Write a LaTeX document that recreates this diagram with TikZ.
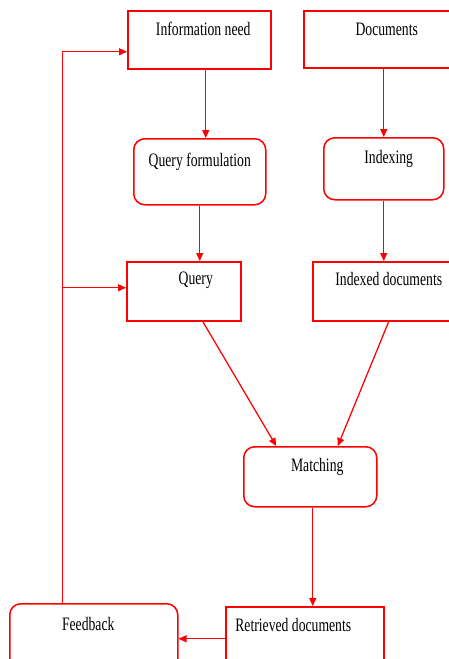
\documentclass[tikz,border=0pt]{standalone}
\usepackage{fontspec}
\setmainfont{Liberation Serif}
\usetikzlibrary{arrows.meta}
\newcommand{\narrow}[1]{\scalebox{0.72}[1]{#1}}
\tikzstyle{sqbox}=[draw=red,line width=1.5pt,anchor=north west,inner sep=0pt,text height=25pt,font=\fontsize{19}{22}\selectfont]
\tikzstyle{roundbox}=[sqbox,rounded corners=11pt]
\tikzstyle{arr}=[red,line width=1.25pt,-{Triangle[length=8pt,width=7pt]}]

\begin{document}
\begin{tikzpicture}[x=1pt,y=-1pt]
  \useasboundingbox (0,0) rectangle (449,659);
  \clip (0,0) rectangle (449,659);
  \node[sqbox,minimum width=143pt,minimum height=58pt,text depth=33pt] (info) at (127,10) {\hspace*{8pt}\narrow{Information need}};
  \node[sqbox,minimum width=157pt,minimum height=57pt,text depth=32pt] (docs) at (303,10) {\hspace*{9pt}\narrow{Documents}};
  \node[roundbox,minimum width=132pt,minimum height=66pt,text height=28pt,text depth=38pt] (qf) at (133,138) {\narrow{Query formulation}};
  \node[roundbox,minimum width=120pt,minimum height=62pt,text height=26pt,text depth=36pt] (idx) at (323,137) {\hspace*{10pt}\narrow{Indexing}};
  \node[sqbox,minimum width=114pt,minimum height=59pt,text height=23pt,text depth=36pt] (query) at (126,261) {\hspace*{24pt}\narrow{Query}};
  \node[sqbox,minimum width=152pt,minimum height=59pt,text height=24pt,text depth=35pt] (indexed) at (312,261) {\narrow{Indexed documents}};
  \node[roundbox,minimum width=133pt,minimum height=60pt,text depth=35pt] (match) at (243,446) {\hspace*{14pt}\narrow{Matching}};
  \node[roundbox,minimum width=168pt,minimum height=70pt,text height=27pt,text depth=43pt] (fb) at (9,603) {\narrow{Feedback}\hspace*{11pt}};
  \node[sqbox,minimum width=158pt,minimum height=64pt,text depth=39pt] (ret) at (225,606) {\narrow{Retrieved documents}\hspace*{23pt}};

  \draw[arr] ([xshift=6.5pt]info.south) -- ([xshift=6.5pt]info.south |- qf.north);
  \draw[arr] (docs.south -| idx.north) -- (idx.north);
  \draw[arr] (qf.south) -- (qf.south |- query.north);
  \draw[arr] (idx.south) -- (idx.south |- indexed.north);
  \draw[arr] ([xshift=19pt]query.south) -- ([xshift=-34pt]match.north);
  \draw[arr] (indexed.south) -- ([xshift=27.5pt]match.north);
  \draw[arr] ([xshift=2.5pt]match.south) -- ([xshift=2.5pt]match.south |- ret.north);
  \draw[arr] (ret.west) -- (fb.east);

  % feedback loop
  \coordinate (lp) at ([xshift=-31pt]fb.north);
  \coordinate (qin) at ([yshift=3.5pt]query.west);
  \draw[arr] (lp) |- ([yshift=-12pt]info.west);
  \draw[arr] (lp |- qin) -- (qin);
\end{tikzpicture}
\end{document}
